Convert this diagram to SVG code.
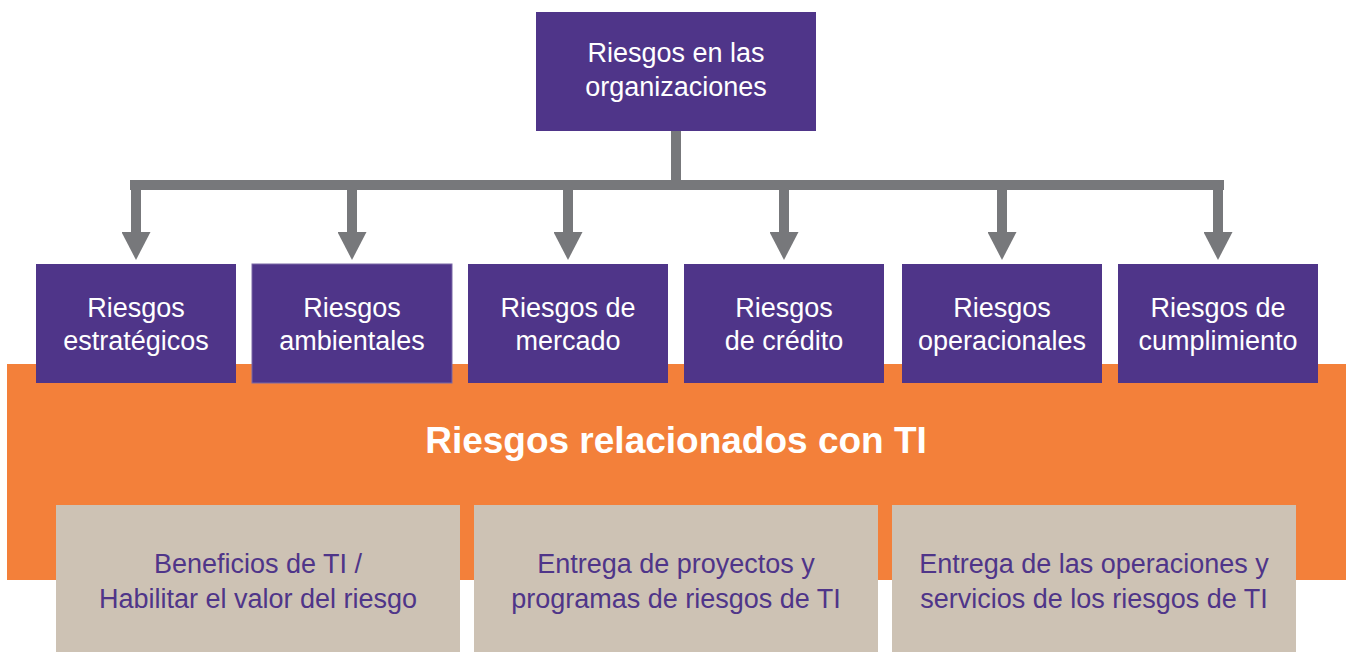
<svg xmlns="http://www.w3.org/2000/svg" width="1346" height="652" viewBox="0 0 1346 652">
<style>
.purple{fill:#4F3589}
.beige{fill:#CDC2B4}
.wt{fill:#FFFFFF;font-family:"Liberation Sans",Arial,sans-serif;font-size:27px;text-anchor:middle}
.pt{fill:#4F3589;font-family:"Liberation Sans",Arial,sans-serif;font-size:27px;text-anchor:middle}
.title{fill:#FFFFFF;font-family:"Liberation Sans",Arial,sans-serif;font-size:37px;font-weight:bold;text-anchor:middle}
.conn{stroke:#77787B;stroke-width:10;fill:none}
.arr{stroke:#77787B;stroke-width:10;fill:none;marker-end:url(#head)}
</style>
<defs>
<marker id="head" viewBox="0 0 28 29" markerWidth="28" markerHeight="29" refX="1" refY="14.5" orient="auto" markerUnits="userSpaceOnUse">
<path d="M0,0 L28,14.5 L0,29 Z" fill="#77787B"/>
</marker>
</defs>
<rect id="it-band" x="7" y="364" width="1339" height="216" fill="#F3803A"/>
<g id="connectors">
<line class="conn" x1="676" y1="131" x2="676" y2="185"/>
<line class="conn" x1="130" y1="185" x2="1224" y2="185"/>
<line class="arr" x1="136" y1="180" x2="136" y2="233"/>
<line class="arr" x1="352" y1="180" x2="352" y2="233"/>
<line class="arr" x1="568" y1="180" x2="568" y2="233"/>
<line class="arr" x1="784" y1="180" x2="784" y2="233"/>
<line class="arr" x1="1002" y1="180" x2="1002" y2="233"/>
<line class="arr" x1="1218" y1="180" x2="1218" y2="233"/>
</g>
<g id="root">
<rect class="purple" x="536" y="12" width="280" height="119"/>
<text class="wt" x="676" y="62">Riesgos en las</text>
<text class="wt" x="676" y="96">organizaciones</text>
</g>
<g id="n1">
<rect class="purple" x="36" y="264" width="200" height="119"/>
<text class="wt" x="136" y="317">Riesgos</text>
<text class="wt" x="136" y="350">estratégicos</text>
</g>
<g id="n2">
<rect class="purple" x="252" y="264" width="200" height="119" stroke="#7B69A6" stroke-width="1"/>
<text class="wt" x="352" y="317">Riesgos</text>
<text class="wt" x="352" y="350">ambientales</text>
</g>
<g id="n3">
<rect class="purple" x="468" y="264" width="200" height="119"/>
<text class="wt" x="568" y="317">Riesgos de</text>
<text class="wt" x="568" y="350">mercado</text>
</g>
<g id="n4">
<rect class="purple" x="684" y="264" width="200" height="119"/>
<text class="wt" x="784" y="317">Riesgos</text>
<text class="wt" x="784" y="350">de crédito</text>
</g>
<g id="n5">
<rect class="purple" x="902" y="264" width="200" height="119"/>
<text class="wt" x="1002" y="317">Riesgos</text>
<text class="wt" x="1002" y="350">operacionales</text>
</g>
<g id="n6">
<rect class="purple" x="1118" y="264" width="200" height="119"/>
<text class="wt" x="1218" y="317">Riesgos de</text>
<text class="wt" x="1218" y="350">cumplimiento</text>
</g>
<g id="it-title">
<text class="title" x="676" y="453">Riesgos relacionados con TI</text>
</g>
<g id="b1">
<rect class="beige" x="56" y="505" width="404" height="147"/>
<text class="pt" x="258" y="573">Beneficios de TI /</text>
<text class="pt" x="258" y="608">Habilitar el valor del riesgo</text>
</g>
<g id="b2">
<rect class="beige" x="474" y="505" width="404" height="147"/>
<text class="pt" x="676" y="573">Entrega de proyectos y</text>
<text class="pt" x="676" y="608">programas de riesgos de TI</text>
</g>
<g id="b3">
<rect class="beige" x="892" y="505" width="404" height="147"/>
<text class="pt" x="1094" y="573">Entrega de las operaciones y</text>
<text class="pt" x="1094" y="608">servicios de los riesgos de TI</text>
</g>
</svg>
